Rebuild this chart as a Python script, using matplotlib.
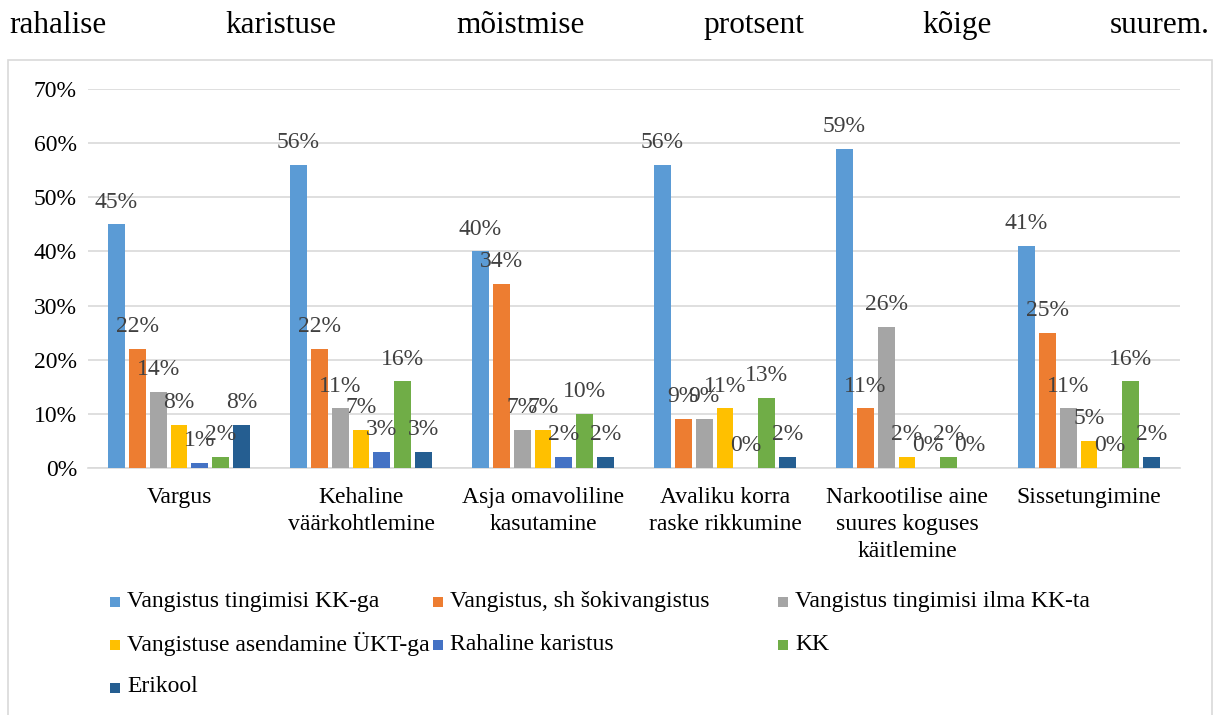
import matplotlib
matplotlib.use("Agg")
import matplotlib.pyplot as plt
from matplotlib.patches import Rectangle
import numpy as np

plt.rcParams['font.family'] = ['Liberation Serif', 'DejaVu Serif']

categories = ["Vargus", "Kehaline\nväärkohtlemine", "Asja omavoliline\nkasutamine",
              "Avaliku korra\nraske rikkumine", "Narkootilise aine\nsuures koguses\nkäitlemine",
              "Sissetungimine"]
series_names = ["Vangistus tingimisi KK-ga", "Vangistus, sh šokivangistus",
                "Vangistus tingimisi ilma KK-ta", "Vangistuse asendamine ÜKT-ga",
                "Rahaline karistus", "KK", "Erikool"]
v_kk = [45, 56, 40, 56, 59, 41]
v_sok = [22, 22, 34, 9, 11, 25]
v_ilma = [14, 11, 7, 9, 26, 11]
v_ukt = [8, 7, 7, 11, 2, 5]
rahaline = [1, 3, 2, 0, 0, 0]
kk = [2, 16, 10, 13, 2, 16]
erikool = [8, 3, 2, 2, 0, 2]
values = [v_kk, v_sok, v_ilma, v_ukt, rahaline, kk, erikool]
colors = ["#5B9BD5", "#ED7D31", "#A5A5A5", "#FFC000", "#4472C4", "#70AD47", "#255E91"]
yticks = [0, 10, 20, 30, 40, 50, 60, 70]
header_words = ["rahalise", "karistuse", "mõistmise", "protsent", "kõige", "suurem."]

W, H = 1220, 715
fig = plt.figure(figsize=(W / 100, H / 100), dpi=100)

# header text (justified line)
word_x = [9, 225, 456, 703, 922, 1110]
for w, x in zip(header_words, word_x):
    fig.text(x / W, 1 - 33 / H, w, fontsize=22.5, va='baseline', ha='left', color='black')

# chart border
fig.patches.append(Rectangle((8 / W, -0.01), 1204 / W, (H - 60) / H + 0.01,
                             transform=fig.transFigure, fill=False,
                             edgecolor='#d9d9d9', linewidth=1.2))

ax = fig.add_axes([88 / W, 1 - 468 / H, (1180 - 88) / W, (468 - 89) / H])
ax.set_xlim(-0.5, len(categories) - 0.5)
ax.set_ylim(0, 70)

x = np.arange(len(categories))
step = 0.115
bw = 0.093
for i, (vals, c) in enumerate(zip(values, colors)):
    pos = x + (i - 3) * step
    ax.bar(pos, vals, width=bw, color=c, edgecolor='none', zorder=3)
    for p, v in zip(pos, vals):
        ax.annotate(f"{v}%", (p, v), xytext=(0, 8.5), textcoords='offset points',
                    ha='center', va='bottom', fontsize=17, color='#404040', zorder=4)

ax.set_yticks(yticks)
ax.set_yticklabels([f"{t}%" for t in yticks], fontsize=17, color='black')
ax.grid(axis='y', color='#d9d9d9', linewidth=1.2, zorder=0)
ax.set_xticks(x)
ax.set_xticklabels(categories, fontsize=17, color='black', linespacing=1.35, va='top')
ax.tick_params(axis='both', length=0)
ax.tick_params(axis='x', pad=14)
ax.tick_params(axis='y', pad=8)
for s in ['top', 'right', 'left']:
    ax.spines[s].set_visible(False)
ax.spines['bottom'].set_color('#d9d9d9')
ax.spines['bottom'].set_linewidth(1.2)

# legend
col_x = [110, 433, 778]
row_y = [602, 645, 688]
for i, (name, c) in enumerate(zip(series_names, colors)):
    cx = col_x[i % 3]
    cy = row_y[i // 3]
    fig.patches.append(Rectangle((cx / W, 1 - (cy + 5) / H), 10 / W, 10 / H,
                                 transform=fig.transFigure, facecolor=c, edgecolor='none'))
    fig.text((cx + 17) / W, 1 - (cy - 1) / H, name, fontsize=17, va='center', ha='left', color='black')

fig.savefig("out.png", dpi=100)
